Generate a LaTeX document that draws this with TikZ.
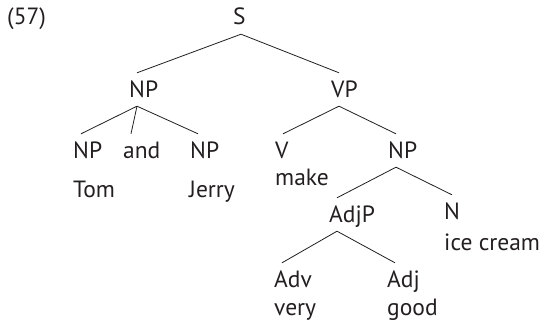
\documentclass[tikz,border=0pt]{standalone}
\usepackage{fontspec}
\setmainfont{PT Sans}
\usetikzlibrary{positioning}
\definecolor{inkblack}{HTML}{231F20}
\begin{document}
\begin{tikzpicture}[x=1pt,y=-1pt,
  every node/.style={font=\fontsize{23.5}{28}\selectfont,text=inkblack,inner xsep=0pt,inner ysep=9pt,anchor=base west},
  cat/.style={text height=15pt,text depth=0pt},
  branch/.style={draw=inkblack,line width=0.8pt}]
  \useasboundingbox (0,0) rectangle (541,329);
  \node (num) at (7,25) {(57)};
  \node[cat] (s) at (233,25) {S};
  \node[cat] (np) at (129,97) {NP};
  \node[cat] (vp) at (331,97) {VP};
  \node[cat] (npa) at (73,158) {NP};
  \node[cat] (and) at (123,158) {and};
  \node[cat] (npb) at (190,158) {NP};
  \node[cat] (v) at (275,158) {V};
  \node[cat] (npc) at (388,158) {NP};
  \node (tom) at (73,197) {Tom};
  \node (jerry) at (189,197) {Jerry};
  \node (make) at (275,185) {make};
  \node[cat] (adjp) at (329,222) {AdjP};
  \node[cat] (n) at (444,219) {N};
  \node (icecream) at (444,250) {ice cream};
  \node[cat] (adv) at (274,287) {Adv};
  \node[cat] (adj) at (387,287) {Adj};
  \node (very) at (274,315) {very};
  \node (good) at (387,315) {good};
  \foreach \a/\b in {s/np,s/vp,np/npa,np/and,np/npb,vp/v,vp/npc,npc/adjp,npc/n,adjp/adv,adjp/adj}
    \draw[branch] ([xshift=8pt]\a.south west) -- ([xshift=8pt]\b.north west);
\end{tikzpicture}
\end{document}
